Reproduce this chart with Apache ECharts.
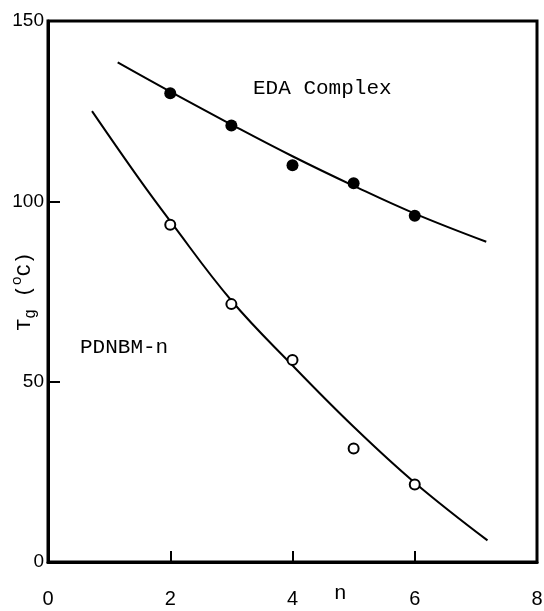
<!DOCTYPE html>
<html>
<head>
<meta charset="utf-8">
<script src="https://cdn.jsdelivr.net/npm/echarts@6/dist/echarts.min.js"></script>
<style>
  html, body { margin: 0; padding: 0; background: #fff; }
  #chart { width: 544px; height: 611px; }
</style>
</head>
<body>
<div id="chart"></div>
<script>
// measured points, n = 2..6
const nValues = [2, 3, 4, 5, 6];
const edaTg = [130, 121, 110, 105, 96];
const pdnbmTg = [93.5, 71.5, 56, 31.5, 21.5];

// hand drawn fit curves
const edaFitN = [1.14, 2, 3, 4, 5, 6, 7.17];
const edaFitTg = [138.5, 130.4, 121.3, 112.5, 104.3, 96.6, 88.8];
const pdnbmFitN = [0.72, 1.5, 2, 3, 4, 5, 6, 7.19];
const pdnbmFitTg = [125, 106, 94.5, 72.5, 54.5, 37.5, 22, 6];

const xTicks = [0, 2, 4, 6, 8];
const yTicks = [0, 50, 100, 150];

const numFont = "'Liberation Sans', sans-serif";
const monoFont = "'Liberation Mono', 'DejaVu Sans Mono', monospace";

const pairs = (xs, ys) => xs.map((x, i) => [x, ys[i]]);

const chart = echarts.init(document.getElementById('chart'), null, { renderer: 'canvas' });

const option = {
  animation: false,
  backgroundColor: '#fff',
  grid: {
    left: 48,
    right: 7,
    top: 21,
    bottom: 49,
    containLabel: false,
    outerBoundsMode: 'none',
    show: true,
    borderColor: '#000',
    borderWidth: 3
  },
  xAxis: {
    type: 'value',
    min: xTicks[0],
    max: xTicks[xTicks.length - 1],
    interval: 2,
    splitLine: { show: false },
    axisLine: { lineStyle: { color: '#000', width: 3 } },
    axisTick: { inside: true, length: 11, lineStyle: { color: '#000', width: 2 } },
    axisLabel: {
      margin: 27,
      color: '#000',
      fontSize: 20,
      fontFamily: numFont
    }
  },
  yAxis: {
    type: 'value',
    min: yTicks[0],
    max: yTicks[yTicks.length - 1],
    interval: 50,
    splitLine: { show: false },
    axisLine: { lineStyle: { color: '#000', width: 3 } },
    axisTick: { inside: true, length: 12, lineStyle: { color: '#000', width: 2 } },
    axisLabel: {
      margin: 4,
      color: '#000',
      fontSize: 19,
      fontFamily: numFont
    },
    name: '{t|T}{sub|g}{t| (}{sup|o}{t|C)}',
    nameLocation: 'middle',
    nameRotate: 90,
    nameGap: 9,
    nameMoveOverlap: false,
    nameTextStyle: {
      rich: {
        t: { fontSize: 20, fontFamily: monoFont, color: '#000', lineHeight: 24, verticalAlign: 'middle' },
        sub: { fontSize: 16, fontFamily: monoFont, color: '#000', padding: [13, 0, 0, 0], verticalAlign: 'bottom' },
        sup: { fontSize: 15, fontFamily: monoFont, color: '#000', padding: [0, 0, 13, 0], verticalAlign: 'top' }
      }
    }
  },
  graphic: [
    { type: 'text', left: 253, top: 78, style: { text: 'EDA Complex', font: "21px " + monoFont, fill: '#000' } },
    { type: 'text', left: 80, top: 337, style: { text: 'PDNBM-n', font: "21px " + monoFont, fill: '#000' } },
    { type: 'text', left: 334, top: 583, style: { text: 'n', font: "21px " + monoFont, fill: '#000' } }
  ],
  series: [
    {
      type: 'line',
      data: pairs(edaFitN, edaFitTg),
      smooth: 0.4,
      showSymbol: false,
      lineStyle: { color: '#000', width: 2 },
      z: 2
    },
    {
      type: 'line',
      data: pairs(pdnbmFitN, pdnbmFitTg),
      smooth: 0.4,
      showSymbol: false,
      lineStyle: { color: '#000', width: 2 },
      z: 2
    },
    {
      type: 'scatter',
      data: pairs(nValues, edaTg),
      symbol: 'circle',
      symbolSize: 12,
      itemStyle: { color: '#000', opacity: 1 },
      z: 3
    },
    {
      type: 'scatter',
      data: pairs(nValues, pdnbmTg),
      symbol: 'circle',
      symbolSize: 10,
      itemStyle: { color: '#fff', borderColor: '#000', borderWidth: 2, opacity: 1 },
      z: 3
    }
  ]
};

chart.setOption(option);
</script>
</body>
</html>
